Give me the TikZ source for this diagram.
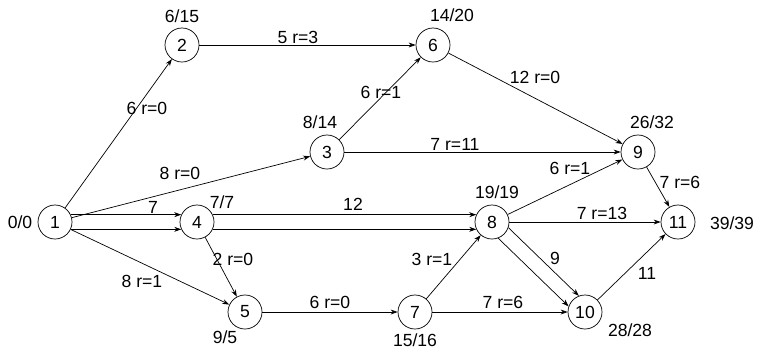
\documentclass[tikz,border=0pt]{standalone}
\usepackage{fontspec}
\setmainfont{Liberation Sans}
\usetikzlibrary{arrows.meta}

\begin{document}
\begin{tikzpicture}[x=0.025cm,y=-0.025cm,
    ev/.style={draw, circle, minimum size=0.85cm, inner sep=0pt, line width=0.5pt},
    arc/.style={draw, line width=0.5pt, -{Stealth[length=5pt,width=3.5pt]}},
    lbl/.style={inner sep=1pt},
    every node/.style={font=\fontsize{12.5}{14}\selectfont}]
    \useasboundingbox (0,0) rectangle (763,350);

    \foreach \i/\x/\y in {1/55/222, 2/182/45, 3/327/152, 4/197/222, 5/245/312, 6/433/45,
                          7/415/312, 8/492/222, 9/638/152, 10/585/312, 11/678/222} {
      \node[ev] (n\i) at (\x,\y) {\i};
    }

    \draw[arc] (n1) -- (n2);
    \draw[arc] (n1) -- (n3);
    \draw[arc] (n1.25) -- (n4.155);
    \draw[arc] (n1.-25) -- (n4.-155);
    \draw[arc] (n1) -- (n5);
    \draw[arc] (n2) -- (n6);
    \draw[arc] (n3) -- (n6);
    \draw[arc] (n3) -- (n9);
    \draw[arc] (n4) -- (n5);
    \draw[arc] (n4.25) -- (n8.155);
    \draw[arc] (n4.-25) -- (n8.-155);
    \draw[arc] (n5) -- (n7);
    \draw[arc] (n6) -- (n9);
    \draw[arc] (n7) -- (n8);
    \draw[arc] (n7) -- (n10);
    \draw[arc] (n8) -- (n9);
    \draw[arc] (n8) -- (n11);
    \draw[arc] (n8.-19) -- (n10.111);
    \draw[arc] (n8.-69) -- (n10.161);
    \draw[arc] (n9) -- (n11);
    \draw[arc] (n10) -- (n11);

    % earliest/latest times
    \node (t1) at (20,222) {0/0};
    \node (t2) at (182,16) {6/15};
    \node (t3) at (320,122) {8/14};
    \node (t4) at (222,202) {7/7};
    \node (t5) at (225,337) {9/5};
    \node (t6) at (452,15) {14/20};
    \node (t7) at (415,340) {15/16};
    \node (t8) at (497,192) {19/19};
    \node (t9) at (652,122) {26/32};
    \node (t10) at (630,330) {28/28};
    \node (t11) at (732,223) {39/39};

    % durations and reserves
    \node[lbl] (l12) at (147,108) {6 r=0};
    \node[lbl] (l13) at (180,173) {8 r=0};
    \node[lbl] (l14) at (153,207) {7};
    \node[lbl] (l15) at (142,281) {8 r=1};
    \node[lbl] (l26) at (298,37) {5 r=3};
    \node[lbl] (l36) at (381,92) {6 r=1};
    \node[lbl] (l39) at (455,144) {7 r=11};
    \node[lbl] (l45) at (233,259) {2 r=0};
    \node[lbl] (l48) at (353,204) {12};
    \node[lbl] (l57) at (330,302) {6 r=0};
    \node[lbl] (l69) at (535,77) {12 r=0};
    \node[lbl] (l78) at (432,259) {3 r=1};
    \node[lbl] (l710) at (503,302) {7 r=6};
    \node[lbl] (l89) at (570,168) {6 r=1};
    \node[lbl] (l811) at (602,213) {7 r=13};
    \node[lbl] (l810) at (555,258) {9};
    \node[lbl] (l911) at (680,182) {7 r=6};
    \node[lbl] (l1011) at (647,273) {11};
  \end{tikzpicture}
\end{document}
